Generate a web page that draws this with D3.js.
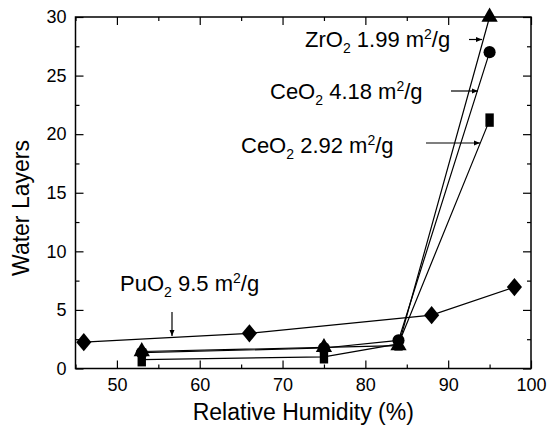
<!DOCTYPE html>
<html>
<head>
<meta charset="utf-8">
<script src="https://cdn.jsdelivr.net/npm/d3@7"></script>
<style>
  body { margin: 0; background: #fff; }
  svg { display: block; font-family: Arial, "Liberation Sans", sans-serif; }
</style>
</head>
<body>
<div class="chart"></div>
<script>
// values
const humidityPu = [46, 66, 88, 98]
const layersPu = [2.25, 3.0, 4.55, 6.95]

const humidityOx = [53, 75, 84, 95]
const layersZr = [1.45, 1.8, 1.95, 30]
const layersCe418 = [1.35, 1.75, 2.4, 27]
const layersCe292 = [0.75, 1.0, 2.1, 21.2]

const xTicks = [50, 60, 70, 80, 90, 100]
const yTicks = [0, 5, 10, 15, 20, 25, 30]

const W = 548
const H = 426
const margin = { top: 17, right: 17, bottom: 57.5, left: 75.5 }
const width = W - margin.left - margin.right
const height = H - margin.top - margin.bottom

const svg = d3.select('.chart').append('svg')
  .attr('width', W)
  .attr('height', H)

const g = svg.append('g')
  .attr('transform', `translate(${margin.left},${margin.top})`)

const x = d3.scaleLinear().domain([45, 100]).range([0, width])
const y = d3.scaleLinear().domain([0, 30]).range([height, 0])

// ticks, inward on all sides
const xMinor = d3.range(45, 101, 5).filter(v => !xTicks.includes(v))
const yMinor = d3.range(2.5, 30, 5)

const axisBottom = g.append('g').attr('transform', `translate(0,${height})`)
axisBottom.call(d3.axisBottom(x).tickValues(xTicks).tickSize(-8).tickPadding(10).tickFormat(d3.format('d')))
axisBottom.append('g').call(d3.axisBottom(x).tickValues(xMinor).tickSize(-4).tickFormat(''))

const axisTop = g.append('g')
axisTop.call(d3.axisTop(x).tickValues(xTicks).tickSize(-8).tickFormat(''))
axisTop.append('g').call(d3.axisTop(x).tickValues(xMinor).tickSize(-4).tickFormat(''))

const axisLeft = g.append('g')
axisLeft.call(d3.axisLeft(y).tickValues(yTicks).tickSize(-8).tickPadding(9))
axisLeft.append('g').call(d3.axisLeft(y).tickValues(yMinor).tickSize(-4).tickFormat(''))

const axisRight = g.append('g').attr('transform', `translate(${width},0)`)
axisRight.call(d3.axisRight(y).tickValues(yTicks).tickSize(-8).tickFormat(''))
axisRight.append('g').call(d3.axisRight(y).tickValues(yMinor).tickSize(-4).tickFormat(''))

g.selectAll('.domain').remove()
g.selectAll('.tick line').attr('stroke', '#000').attr('stroke-width', 1.2)
g.selectAll('.tick text')
  .attr('fill', '#000')
  .style('font-size', '18px')
  .style('font-family', 'Arial, "Liberation Sans", sans-serif')

g.append('rect')
  .attr('width', width)
  .attr('height', height)
  .attr('fill', 'none')
  .attr('stroke', '#000')
  .attr('stroke-width', 1.5)

// series
const series = [
  { name: 'PuO2', xs: humidityPu, ys: layersPu, symbol: d3.symbolDiamond, size: 150, sx: 1.15, sy: 0.8 },
  { name: 'CeO2 2.92', xs: humidityOx, ys: layersCe292, symbol: d3.symbolSquare, size: 125, sx: 0.75, sy: 1.2 },
  { name: 'CeO2 4.18', xs: humidityOx, ys: layersCe418, symbol: d3.symbolCircle, size: 115, sx: 1, sy: 1 },
  { name: 'ZrO2', xs: humidityOx, ys: layersZr, symbol: d3.symbolTriangle, size: 115, sx: 1, sy: 1 }
]

const line = d3.line().x(d => x(d[0])).y(d => y(d[1]))

series.forEach(s => {
  const pts = s.xs.map((v, i) => [v, s.ys[i]])
  g.append('path')
    .datum(pts)
    .attr('d', line)
    .attr('fill', 'none')
    .attr('stroke', '#000')
    .attr('stroke-width', 1.2)
})

series.forEach(s => {
  const pts = s.xs.map((v, i) => [v, s.ys[i]])
  g.selectAll(null)
    .data(pts)
    .enter().append('path')
      .attr('d', d3.symbol().type(s.symbol).size(s.size))
      .attr('transform', d => `translate(${x(d[0])},${y(d[1])}) scale(${s.sx},${s.sy})`)
      .attr('fill', '#000')
})

// axis titles
svg.append('text')
  .attr('x', margin.left + width / 2)
  .attr('y', 420)
  .attr('text-anchor', 'middle')
  .style('font-size', '23px')
  .text('Relative Humidity (%)')

svg.append('text')
  .attr('transform', 'translate(29,208) rotate(-90)')
  .attr('text-anchor', 'middle')
  .style('font-size', '23px')
  .text('Water Layers')

// annotations
const notes = [
  { x: 305, y: 47, parts: ['ZrO', '2', ' 1.99 m', '2', '/g'], ax1: 469, ay1: 39.5, ax2: 482, ay2: 39.5 },
  { x: 270, y: 99, parts: ['CeO', '2', ' 4.18 m', '2', '/g'], ax1: 451, ay1: 91, ax2: 478, ay2: 91 },
  { x: 241, y: 153, parts: ['CeO', '2', ' 2.92 m', '2', '/g'], ax1: 426, ay1: 143, ax2: 480, ay2: 143 },
  { x: 120, y: 291, parts: ['PuO', '2', ' 9.5 m', '2', '/g'], ax1: 172, ay1: 312, ax2: 172, ay2: 336 }
]

notes.forEach(n => {
  const t = svg.append('text')
    .attr('x', n.x)
    .attr('y', n.y)
    .style('font-size', '22px')
  t.append('tspan').text(n.parts[0])
  t.append('tspan').text(n.parts[1]).attr('dy', 6).style('font-size', '14px')
  t.append('tspan').text(n.parts[2]).attr('dy', -6)
  t.append('tspan').text(n.parts[3]).attr('dy', -8).style('font-size', '14px')
  t.append('tspan').text(n.parts[4]).attr('dy', 8)

  svg.append('line')
    .attr('x1', n.ax1).attr('y1', n.ay1)
    .attr('x2', n.ax2).attr('y2', n.ay2)
    .attr('stroke', '#000')
    .attr('stroke-width', 1.2)

  // small arrow head
  const ang = Math.atan2(n.ay2 - n.ay1, n.ax2 - n.ax1) * 180 / Math.PI
  svg.append('path')
    .attr('d', 'M0,0 L-6,-2.5 L-6,2.5 Z')
    .attr('transform', `translate(${n.ax2},${n.ay2}) rotate(${ang})`)
    .attr('fill', '#000')
})
</script>
</body>
</html>
